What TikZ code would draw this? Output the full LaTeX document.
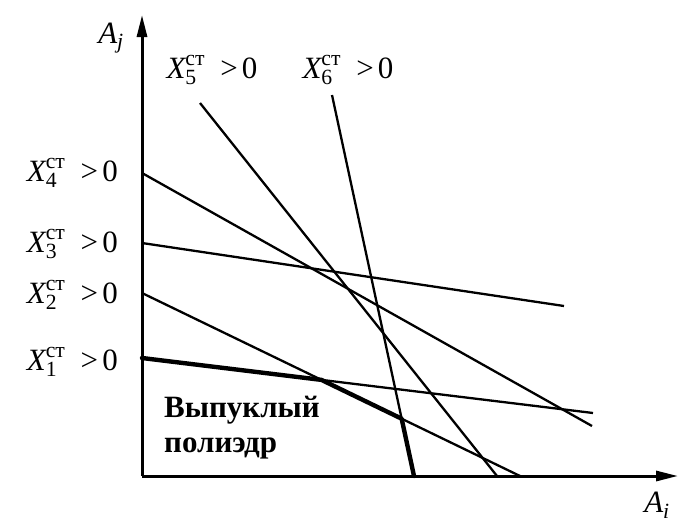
\documentclass[tikz,border=0pt]{standalone}
\usepackage{amsmath}
\usepackage{fontspec}
\setmainfont{Liberation Serif}
\usetikzlibrary{arrows.meta}
\tikzset{
  axisline/.style={line width=3pt, -{Triangle[length=22pt,width=10pt]}},
  cline/.style={line width=2.3pt},
  bline/.style={line width=4.4pt, line cap=round, line join=round},
  lbl/.style={font=\fontsize{31}{36}\selectfont, inner sep=0pt},
}
\newcommand{\xct}[1]{$\textit{X}^{\text{ст}}_{\text{#1}}\mskip11mu\text{>}\mskip3mu\text{0}$}

\begin{document}
\begin{tikzpicture}[x=1pt, y=-1pt]
  \useasboundingbox (0,0) rectangle (688,522);

  %% Axes
  \coordinate (O)  at (142,476);
  \coordinate (yt) at (142,15);
  \coordinate (xt) at (678,476);
  \draw[axisline] (O) -- (yt);
  \draw[axisline] (O) -- (xt);
  \node[lbl] (aj) at (111,38) {$\textit{A}_{\textit{j}}$};
  \node[lbl] (ai) at (657,505) {$\textit{A}_{\textit{i}}$};

  %% Constraint lines
  \coordinate (a1) at (142,358); \coordinate (b1) at (593,413);
  \coordinate (a2) at (142,293); \coordinate (b2) at (520,476);
  \coordinate (a3) at (142,243); \coordinate (b3) at (564,306);
  \coordinate (a4) at (142,173); \coordinate (b4) at (592,426);
  \coordinate (a5) at (200,103); \coordinate (b5) at (497,476);
  \coordinate (a6) at (332,95);  \coordinate (b6) at (414,476);
  \foreach \i in {1,...,6}{
    \draw[cline] (a\i) -- (b\i);
  }

  %% Polyhedron boundary
  \coordinate (p1) at (intersection of a1--b1 and a2--b2);
  \coordinate (p2) at (intersection of a2--b2 and a6--b6);
  \draw[bline] (a1) -- (p1) -- (p2) -- (b6);

  %% Labels
  \node[lbl, anchor=east] (l1) at (118,362) {\xct{1}};
  \node[lbl, anchor=east] (l2) at (118,295) {\xct{2}};
  \node[lbl, anchor=east] (l3) at (118,244) {\xct{3}};
  \node[lbl, anchor=east] (l4) at (118,173) {\xct{4}};
  \node[lbl] (l5) at (212,70) {\xct{5}};
  \node[lbl] (l6) at (348,70) {\xct{6}};
  \node[lbl, font=\fontsize{31}{35}\selectfont\bfseries, align=left, anchor=north west]
    (poly) at (164,396) {Выпуклый\\полиэдр};
\end{tikzpicture}
\end{document}
